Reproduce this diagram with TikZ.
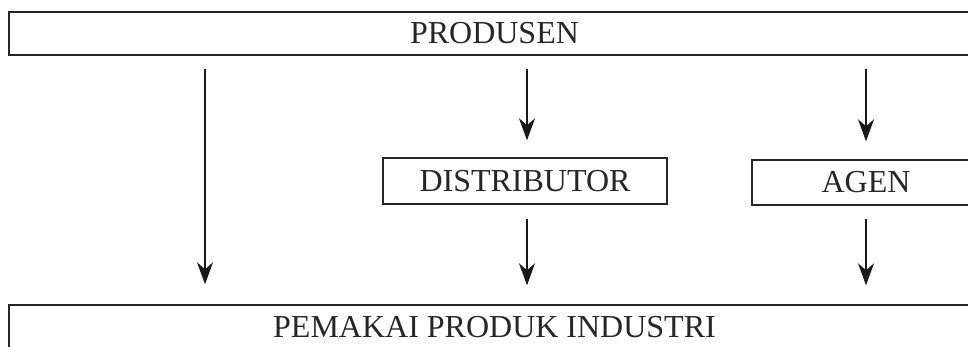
\documentclass[tikz,border=0pt]{standalone}
\usepackage{fontspec}
\setmainfont{Liberation Serif}
\usetikzlibrary{arrows.meta}
\begin{document}
\begin{tikzpicture}[x=1pt,y=-1pt,
  box/.style={draw=black!85,line width=1.4pt,inner sep=0pt,font=\fontsize{32}{36}\selectfont,text=black!85},
  arr/.style={draw=black!90,line width=1.2pt,-{Stealth[length=22pt,width=16pt,inset=7pt]}}]
\useasboundingbox (0,0) rectangle (968,347);
\clip (0,0) rectangle (968,347);
\node[box,minimum width=971pt,minimum height=43pt] (prod) at (494.5,33.5) {PRODUSEN};
\node[box,minimum width=284pt,minimum height=46pt] (dist) at (525,181) {DISTRIBUTOR};
\node[box,minimum width=228pt,minimum height=45pt] (agen) at (866,182.5) {AGEN};
\node[box,minimum width=971pt,minimum height=45pt] (user) at (494.5,327.5) {PEMAKAI PRODUK INDUSTRI};
\coordinate (l) at (205,0);
\coordinate (m) at (527,0);
\coordinate (r) at (866,0);
\draw[arr,shorten <=13pt,shorten >=20pt] (prod.south -| l) -- (user.north -| l);
\draw[arr,shorten <=13pt,shorten >=17pt] (prod.south -| m) -- (dist.north -| m);
\draw[arr,shorten <=14pt,shorten >=19pt] (dist.south -| m) -- (user.north -| m);
\draw[arr,shorten <=13pt,shorten >=18pt] (prod.south -| r) -- (agen.north -| r);
\draw[arr,shorten <=13pt,shorten >=19pt] (agen.south -| r) -- (user.north -| r);
\end{tikzpicture}
\end{document}
